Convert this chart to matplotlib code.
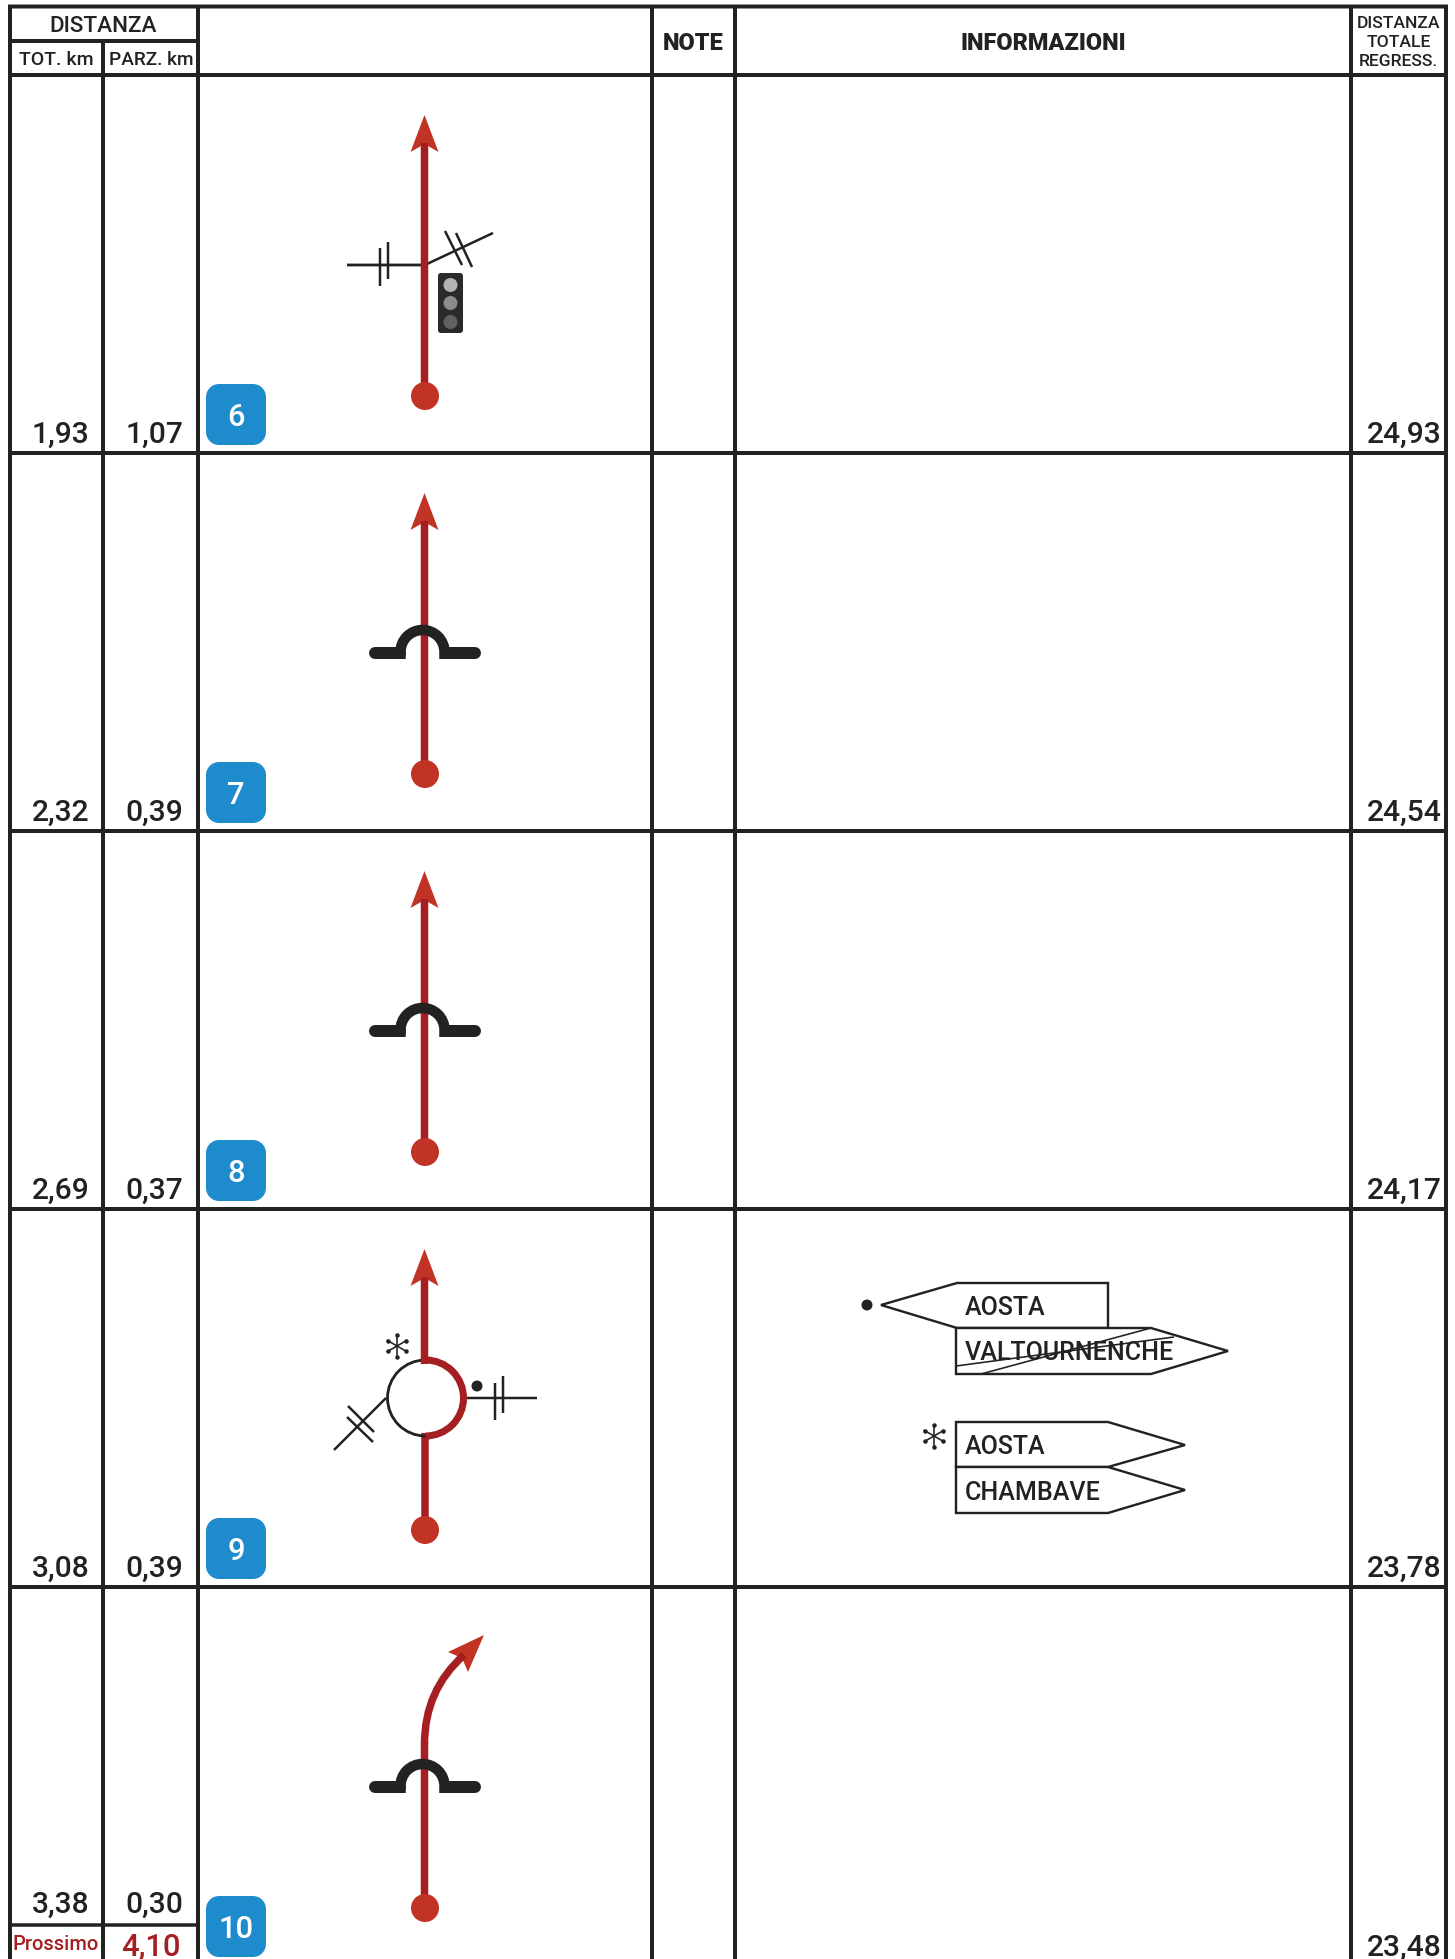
# Roadbook : tableau des distances et pictogrammes

import numpy as np
import matplotlib
matplotlib.use('Agg')
import matplotlib.pyplot as plt
from matplotlib.patches import Circle, Polygon, FancyBboxPatch, PathPatch, Arc
from matplotlib.path import Path

plt.rcParams['font.family'] = ['Roboto', 'DejaVu Sans']

# %% donnees
badges = ['6', '7', '8', '9', '10']
tot_km = ['1,93', '2,32', '2,69', '3,08', '3,38']
parz_km = ['1,07', '0,39', '0,37', '0,39', '0,30']
regress_km = ['24,93', '24,54', '24,17', '23,78', '23,48']
prossimo_label = 'Prossimo'
prossimo_km = '4,10'
sign_labels = ['AOSTA', 'VALTOURNENCHE', 'AOSTA', 'CHAMBAVE']

row_tops = [75, 453, 831, 1209, 1587]
col_x = [10, 103, 198, 652, 735, 1351, 1446]

NOIR = '#222221'
ROUGE = '#a51e22'
ROUGE2 = '#c13324'
BLEU = '#1e8bcd'
W, H = 1455, 1959

fig = plt.figure(figsize=(W/100, H/100), dpi=100)
ax = fig.add_axes([0, 0, 1, 1])
ax.set_xlim(0, W)
ax.set_ylim(H, 0)
ax.axis('off')


def px(w):
    return w*0.72


def seg(x0, y0, x1, y1, w=2.5, c=NOIR, z=3, cap='butt'):
    l, = ax.plot([x0, x1], [y0, y1], color=c, lw=px(w), solid_capstyle=cap, zorder=z)
    l.set_snap(False)


def txt(x, y, s, size, c=NOIR, ha='center', va='center', weight='medium'):
    return ax.text(x, y, s, fontsize=size*0.72, color=c, ha=ha, va=va, weight=weight, zorder=8)


def tete(tip, b1, notch, b2):
    ax.add_patch(Polygon([tip, b1, notch, b2], closed=True, fc=ROUGE2, ec='none', zorder=4))


def depart(y, x=425):
    ax.add_patch(Circle((x, y), 14, fc=ROUGE2, ec='none', zorder=7))


def fleche(y_tip, y_start, x=424.5):
    seg(x, y_start, x, y_tip+28, 7.5, ROUGE, 5)
    tete((x, y_tip), (x-14, y_tip+37), (x, y_tip+29), (x+14, y_tip+37))


def pont(yc):
    seg(375, yc, 400, yc, 12, NOIR, 6, 'round')
    seg(446, yc, 474, yc, 12, NOIR, 6, 'butt')
    seg(474, yc, 475, yc, 12, NOIR, 6, 'round')
    ax.add_patch(Arc((422.5, yc-1), 44, 44, theta1=180, theta2=360, lw=px(10.5), color=NOIR, zorder=6))
    seg(400.5, yc-1, 400.5, yc+6, 10.5, NOIR, 6)
    seg(444.5, yc-1, 444.5, yc+6, 10.5, NOIR, 6)


def etoile(x, y, r=12):
    for a in np.deg2rad([90, 30, -30]):
        dx, dy = r*np.cos(a), r*np.sin(a)
        seg(x-dx, y-dy, x+dx, y+dy, 1.6, NOIR, 6)
        ax.plot([x-dx*0.9, x+dx*0.9], [y-dy*0.9, y+dy*0.9], ls='none', marker='o', ms=px(4.5), color=NOIR, mew=0, zorder=6)


def panneau(pts, label, lw=2.4):
    ax.add_patch(Polygon(pts, closed=True, fc='white', ec=NOIR, lw=px(lw), zorder=3, joinstyle='miter'))
    ys = [p[1] for p in pts]
    txt(965, (min(ys)+max(ys))/2+2.5, label, 25, ha='left')


# %% grille
LW = 4
seg(col_x[0]-2, 6.5, col_x[-1]+2, 6.5, LW, NOIR, 2)
seg(col_x[0]-2, 75, col_x[-1]+2, 75, LW, NOIR, 2)
seg(col_x[0], 41, col_x[2], 41, LW, NOIR, 2)
for i in row_tops[1:]:
    seg(col_x[0]-2, i, col_x[-1]+2, i, LW, NOIR, 2)
seg(col_x[0], 1925, col_x[2], 1925, 3.5, NOIR, 2)
for j, x in enumerate(col_x):
    seg(x, 41 if j == 1 else 6, x, H, LW, NOIR, 2)

# entetes
txt(103, 26.5, 'DISTANZA', 22.5)
txt(56, 60, 'TOT. km', 19.5)
txt(151, 60, 'PARZ. km', 19)
txt(693, 44, 'NOTE', 23.5, weight='black')
txt(1043, 44, 'INFORMAZIONI', 23.5, weight='black')
for y, s in zip([24, 42.5, 61], ['DISTANZA', 'TOTALE', 'REGRESS.']):
    txt(1398.5, y, s, 17.5)

# %% lignes du tableau
for i, top in enumerate(row_tops):
    base_t = top+368 if i < 4 else 1913
    base_r = top+368 if i < 4 else 1956
    txt(60.5, base_t, tot_km[i], 30, va='baseline')
    txt(154, base_t, parz_km[i], 30, va='baseline')
    txt(1404, base_r, regress_km[i], 30, va='baseline')
    ax.add_patch(FancyBboxPatch((218, top+321), 36, 37, boxstyle='round,pad=0,rounding_size=1',
                                fc=BLEU, ec=BLEU, lw=px(24), joinstyle='round', zorder=3))
    txt(236, top+342, badges[i], 31, c='white')
    depart(top+321)

txt(56, 1944, prossimo_label, 20, c=ROUGE)
txt(151, 1955, prossimo_km, 31, c=ROUGE, va='baseline')

# %% rangee 6 : carrefour et feu
t = row_tops[0]
fleche(t+40, t+321)
seg(347, 265, 424, 265, 2.8)
seg(380, 248, 380, 286, 2.5)
seg(388, 242, 388, 279, 2.5)
seg(427, 264, 493, 233, 2.5)
seg(445, 231, 462, 265, 2.5)
seg(456, 233, 472, 267, 2.5)
ax.add_patch(FancyBboxPatch((440, 275), 21, 56, boxstyle='round,pad=0,rounding_size=1',
                            fc='#2b2a29', ec='#2b2a29', lw=px(4), zorder=5))
for y, c in zip([285, 303, 322], ['#b3b3b3', '#8c8c8c', '#616161']):
    ax.add_patch(Circle((450.5, y), 7, fc=c, ec='none', zorder=6))

# %% rangees 7 et 8 : passage superieur
for t in row_tops[1:3]:
    fleche(t+40, t+321)
    pont(t+200)

# %% rangee 9 : rond-point
t = row_tops[3]
fleche(t+40, t+155)
seg(425, t+224, 425, t+321, 7.5, ROUGE, 4)
cx, cy = 425.5, 1398
ax.add_patch(Arc((cx, cy), 76, 76, theta1=90, theta2=270, lw=px(2.8), color=NOIR, zorder=4))
ax.add_patch(Arc((cx, cy), 76, 76, theta1=-90, theta2=90, lw=px(7), color=ROUGE, zorder=4))
seg(467, 1398, 537, 1398, 2.5)
seg(495, 1383, 495, 1420, 2.5)
seg(503, 1376, 503, 1413, 2.5)
seg(386, 1398, 334, 1450, 2.5)
seg(348, 1406, 374, 1432, 2.5)
seg(347, 1417, 373, 1442, 2.5)
ax.add_patch(Circle((477, 1386), 5.5, fc=NOIR, ec='none', zorder=5))
etoile(397, 1346)

# panneaux
panneau([(881, 1305), (957, 1283), (1108, 1283), (1108, 1328), (957, 1328)], sign_labels[0])
panneau([(956, 1328), (1151, 1328), (1228, 1351), (1151, 1374), (956, 1374)], sign_labels[1])
seg(956, 1366, 1174, 1337, 1.6, NOIR, 9)
seg(981, 1374, 1151, 1328, 1.6, NOIR, 9)
panneau([(956, 1422), (1108, 1422), (1185, 1445), (1108, 1467), (956, 1467)], sign_labels[2])
panneau([(956, 1467), (1108, 1467), (1185, 1490), (1108, 1513), (956, 1513)], sign_labels[3])
ax.add_patch(Circle((867, 1305), 5.5, fc=NOIR, ec='none', zorder=5))
etoile(934, 1436)

# %% rangee 10 : virage a droite
t = row_tops[4]
seg(424.5, t+321, 424.5, 1743, 7.5, ROUGE, 4)
courbe = Path([(424.5, 1744), (424.5, 1690), (464, 1655)], [Path.MOVETO, Path.CURVE3, Path.CURVE3])
p = PathPatch(courbe, fc='none', ec=ROUGE, lw=px(7.5), capstyle='butt', zorder=5)
p.set_snap(False)
ax.add_patch(p)
tete((484, 1635), (448, 1652), (462, 1658), (468, 1672))
pont(t+200)

fig.savefig('out.png', dpi=100)
